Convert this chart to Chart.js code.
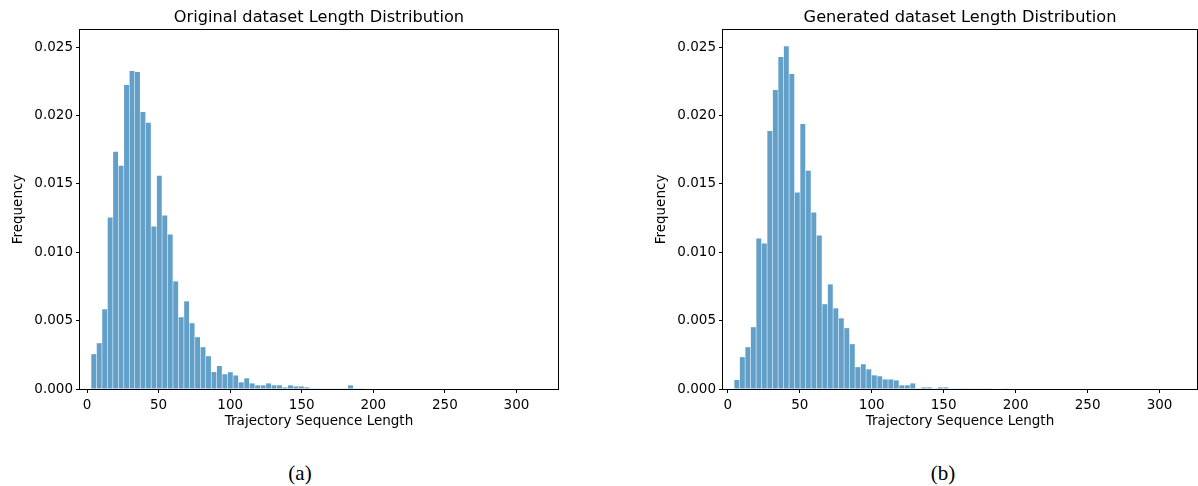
<!DOCTYPE html>
<html>
<head>
<meta charset="utf-8">
<script src="https://cdn.jsdelivr.net/npm/chart.js@4.4.1/dist/chart.umd.min.js"></script>
<style>
  body { margin: 0; background: #fff; width: 1198px; height: 486px; position: relative; overflow: hidden; }
  .wrap { position: absolute; top: 0; height: 440px; }
  .caption { position: absolute; top: 461px; font-family: "Liberation Serif", serif; font-size: 21px; color: #000; transform: translateX(-50%); }
</style>
</head>
<body>
<div class="wrap" style="left:0;width:600px"><canvas id="origChart"></canvas></div>
<div class="wrap" style="left:643px;width:555px"><canvas id="genChart"></canvas></div>
<div class="caption" style="left:300px">(a)</div>
<div class="caption" style="left:943px">(b)</div>
<script>
// ===============================
// DATA
// ===============================
const origTitle = "Original dataset Length Distribution";
const genTitle = "Generated dataset Length Distribution";
const xLabel = "Trajectory Sequence Length";
const yLabel = "Frequency";

const xTicks = [0, 50, 100, 150, 200, 250, 300];
const yTicks = [0, 0.005, 0.01, 0.015, 0.02, 0.025];

// histogram bins: first left edge + bin width
const origBinStart = 2.8;
const origBinWidth = 3.816;
const genBinStart = 4.4;
const genBinWidth = 3.82;

const origFreq = [
  0.00255, 0.00335, 0.00583, 0.01254, 0.01735, 0.01633, 0.02223, 0.02325, 0.02318, 0.02026,
  0.01946, 0.01188, 0.0156, 0.01268, 0.0113, 0.00787, 0.00525, 0.00641, 0.00481, 0.00379,
  0.00306, 0.0024, 0.00124, 0.00168, 0.00108, 0.00123, 0.00099, 0.00049, 0.00078, 0.00041,
  0.00027, 0.00027, 0.00041, 0.00027, 0.00027, 0.00012, 0.00027, 0.00019, 0.00019, 0.00012,
  0.00005, 0.00005, 0.00005, 0.00003, 0.00005, 0.00005, 0.00005, 0.00027, 0.00002, 0.00005
];

const genFreq = [
  0.00066, 0.00233, 0.00306, 0.00452, 0.011, 0.01064, 0.01887, 0.02186, 0.02427, 0.02507,
  0.02303, 0.01436, 0.01938, 0.01596, 0.0129, 0.01122, 0.0062, 0.00765, 0.0059, 0.00517,
  0.00445, 0.00328, 0.0016, 0.00181, 0.00144, 0.001, 0.00093, 0.0007, 0.0007, 0.00063,
  0.00027, 0.00027, 0.00041, 0.00002, 0.00012, 0.00012, 0.00005, 0.00012, 0.00012, 0.00005,
  0.00005, 0.00002, 0.00005, 0.00005, 0.00005, 0.00005, 0.00005, 0, 0, 0.00005
];

const barColor = "rgba(31, 119, 180, 0.7)";
const fontFamily = "'DejaVu Sans', sans-serif";
const tickSize = 13.5;
const titleSize = 16.2;

// ===============================
// HELPERS
// ===============================
function toPoints(freq, start, width) {
  return freq.map((v, i) => ({ x: start + (i + 0.5) * width, y: v }));
}

// box around the plot + title over the plot area
const frameAndTitle = {
  id: "frameAndTitle",
  afterDraw(chart, args, opts) {
    const { ctx, chartArea: a } = chart;
    ctx.save();
    ctx.strokeStyle = "#000";
    ctx.lineWidth = 1;
    ctx.strokeRect(Math.round(a.left) - 0.5, Math.round(a.top) - 0.5,
      Math.round(a.right - a.left) + 1, Math.round(a.bottom - a.top) + 1);
    ctx.fillStyle = "#000";
    ctx.font = titleSize + "px " + fontFamily;
    ctx.textAlign = "center";
    ctx.textBaseline = "middle";
    ctx.fillText(opts.text, (a.left + a.right) / 2, a.top - 12);
    ctx.restore();
  }
};

function makeHist(id, title, freq, start, width, xMin, xMax, padRight) {
  return new Chart(document.getElementById(id), {
    type: "bar",
    data: {
      datasets: [{
        data: toPoints(freq, start, width),
        backgroundColor: barColor,
        borderWidth: 0,
        barPercentage: 0.9,
        categoryPercentage: 1
      }]
    },
    options: {
      responsive: true,
      maintainAspectRatio: false,
      animation: false,
      layout: { padding: { top: 30, right: padRight, left: 0, bottom: 0 } },
      plugins: {
        legend: { display: false },
        tooltip: { enabled: false },
        frameAndTitle: { text: title }
      },
      scales: {
        x: {
          type: "linear",
          min: xMin,
          max: xMax,
          offset: false,
          afterBuildTicks: s => { s.ticks = xTicks.map(v => ({ value: v })); },
          afterFit: s => { s.height = 51; },
          ticks: { color: "#000", font: { family: fontFamily, size: tickSize }, padding: 4, maxRotation: 0, callback: v => String(v) },
          grid: { offset: false, drawOnChartArea: false, drawTicks: true, tickLength: 4, color: "#000" },
          border: { display: false },
          title: { display: true, text: xLabel, color: "#000", font: { family: fontFamily, size: tickSize }, padding: { top: 0, bottom: 10 } }
        },
        y: {
          min: 0,
          max: 0.02625,
          afterBuildTicks: s => { s.ticks = yTicks.map(v => ({ value: v })); },
          afterFit: s => { s.width = 80; },
          ticks: { color: "#000", font: { family: fontFamily, size: tickSize }, padding: 3, callback: v => v.toFixed(3) },
          grid: { offset: false, drawOnChartArea: false, drawTicks: true, tickLength: 4, color: "#000" },
          border: { display: false },
          title: { display: true, text: yLabel, color: "#000", font: { family: fontFamily, size: tickSize }, padding: { top: 10, bottom: 0 } }
        }
      }
    },
    plugins: [frameAndTitle]
  });
}

// ===============================
// On Page Load
// ===============================
makeHist("origChart", origTitle, origFreq, origBinStart, origBinWidth, -4.9, 329, 42);
makeHist("genChart", genTitle, genFreq, genBinStart, genBinWidth, -3.3, 326, 1);
</script>
</body>
</html>
